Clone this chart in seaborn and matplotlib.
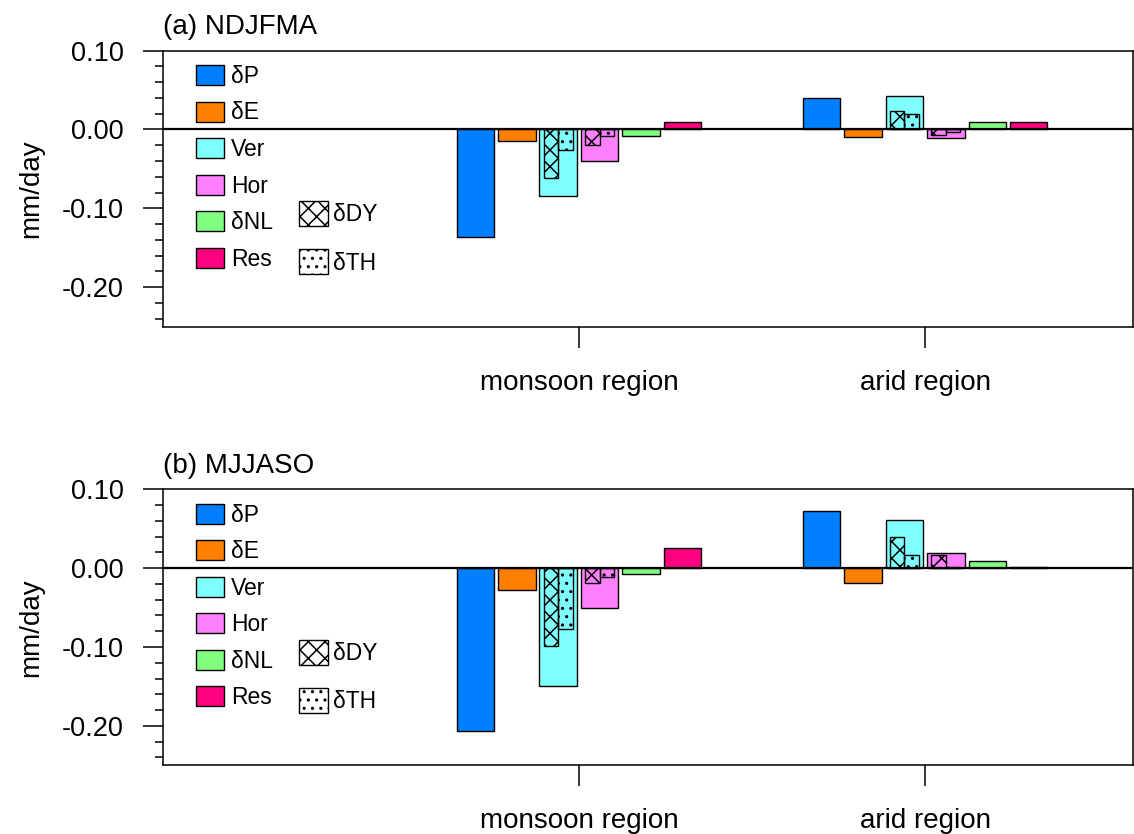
import numpy as np
import pandas as pd
import matplotlib
matplotlib.use("Agg")
import matplotlib.pyplot as plt
import seaborn as sns
from matplotlib.patches import Patch
from matplotlib.ticker import MultipleLocator

# ---------------- data ----------------
regions = ["monsoon region", "arid region"]
components = ["δP", "δE", "Ver", "Hor", "δNL", "Res"]
colors = ["#0080FF", "#FF8000", "#80FFFF", "#FF80FF", "#80FF80", "#FF0080"]
decomp_labels = ["δDY", "δTH"]

# panel (a) NDJFMA
ndjfma_monsoon = [-0.136, -0.015, -0.084, -0.040, -0.008, 0.009]
ndjfma_arid = [0.040, -0.010, 0.042, -0.011, 0.009, 0.010]
ndjfma_ver_dy = [-0.061, 0.024]
ndjfma_ver_th = [-0.026, 0.020]
ndjfma_hor_dy = [-0.020, -0.007]
ndjfma_hor_th = [-0.0085, -0.003]

# panel (b) MJJASO
mjjaso_monsoon = [-0.206, -0.028, -0.150, -0.050, -0.008, 0.026]
mjjaso_arid = [0.073, -0.019, 0.061, 0.019, 0.009, 0.002]
mjjaso_ver_dy = [-0.099, 0.039]
mjjaso_ver_th = [-0.077, 0.017]
mjjaso_hor_dy = [-0.019, 0.016]
mjjaso_hor_th = [-0.0115, 0.002]

ytick_values = [-0.20, -0.10, 0.00, 0.10]
ytick_labels = ["-0.20", "-0.10", "0.00", "0.10"]

# ---------------- style ----------------
sns.set_style("ticks")
plt.rcParams["font.family"] = ["Liberation Sans", "DejaVu Sans"]
plt.rcParams["axes.unicode_minus"] = False
plt.rcParams["hatch.linewidth"] = 1.1
plt.rcParams["hatch.color"] = "black"
for k in ["text.color", "axes.labelcolor", "xtick.color", "ytick.color", "axes.edgecolor"]:
    plt.rcParams[k] = "black"

fig = plt.figure(figsize=(11.34, 8.34), dpi=100)
ax_a = fig.add_axes([0.1437, 0.6083, 0.8551, 0.3310])
ax_b = fig.add_axes([0.1437, 0.0824, 0.8551, 0.3310])

GROUP_W = 0.7194
SLOT = GROUP_W / len(components)
SUB_W = 0.042
SUB_OFF = 0.021
HATCH_DY = "xx"
HATCH_TH = ".."
LEG_FS = 16.5


def draw_panel(ax, title, monsoon, arid, ver_dy, ver_th, hor_dy, hor_th):
    df = pd.DataFrame({
        "region": np.repeat(regions, len(components)),
        "component": components * 2,
        "value": list(monsoon) + list(arid),
    })
    sns.barplot(data=df, x="region", y="value", hue="component",
                order=regions, hue_order=components,
                palette=dict(zip(components, colors)),
                width=GROUP_W, gap=0.096, saturation=1,
                edgecolor="black", linewidth=1.0, errorbar=None,
                legend=False, ax=ax)
    xs = np.arange(len(regions))
    ver_c = xs + (components.index("Ver") - 2.5) * SLOT
    hor_c = xs + (components.index("Hor") - 2.5) * SLOT
    for cen, dy, th in [(ver_c, ver_dy, ver_th), (hor_c, hor_dy, hor_th)]:
        ax.bar(cen - SUB_OFF, dy, width=SUB_W, facecolor="none",
               edgecolor="black", linewidth=1.0, hatch=HATCH_DY, zorder=2)
        ax.bar(cen + SUB_OFF, th, width=SUB_W, facecolor="none",
               edgecolor="black", linewidth=1.0, hatch=HATCH_TH, zorder=2)
    ax.axhline(0, color="black", lw=1.6, zorder=3)

    ax.set_xlim(-1.2023, 1.600)
    ax.set_ylim(-0.25, 0.10)
    ax.set_yticks(ytick_values)
    ax.set_yticklabels(ytick_labels)
    ax.yaxis.set_minor_locator(MultipleLocator(0.02))
    ax.tick_params(axis="y", which="major", direction="out", length=14.4,
                   width=1.1, labelsize=19.5, pad=14)
    ax.tick_params(axis="y", which="minor", direction="out", length=5.8,
                   width=1.1)
    ax.tick_params(axis="x", which="major", direction="out", length=15,
                   width=1.1, labelsize=20, pad=16)
    ax.set_xlabel("")
    ax.set_ylabel("mm/day", fontsize=20)
    ax.yaxis.set_label_coords(-0.122, 0.5)
    for sp in ax.spines.values():
        sp.set_visible(True)
        sp.set_linewidth(1.1)
    ax.set_title(title, loc="left", fontsize=20, pad=12)

    h1 = [Patch(facecolor=c, edgecolor="black", linewidth=1.0, label=l)
          for c, l in zip(colors, components)]
    leg1 = ax.legend(handles=h1, loc="upper left", bbox_to_anchor=(0.034, 0.948),
                     frameon=False, borderpad=0, borderaxespad=0, fontsize=LEG_FS,
                     handlelength=1.22, handleheight=0.96, labelspacing=0.59,
                     handletextpad=0.30)
    ax.add_artist(leg1)
    h2 = [Patch(facecolor="white", edgecolor="black", linewidth=1.0,
                hatch=h, label=l) for h, l in zip([HATCH_DY, HATCH_TH], decomp_labels)]
    ax.legend(handles=h2, loc="upper left", bbox_to_anchor=(0.140, 0.455),
              frameon=False, borderpad=0, borderaxespad=0, fontsize=LEG_FS,
              handlelength=1.26, handleheight=1.3, labelspacing=1.01,
              handletextpad=0.22)


draw_panel(ax_a, "(a) NDJFMA", ndjfma_monsoon, ndjfma_arid,
           ndjfma_ver_dy, ndjfma_ver_th, ndjfma_hor_dy, ndjfma_hor_th)
draw_panel(ax_b, "(b) MJJASO", mjjaso_monsoon, mjjaso_arid,
           mjjaso_ver_dy, mjjaso_ver_th, mjjaso_hor_dy, mjjaso_hor_th)

fig.savefig("out.png", dpi=100)
